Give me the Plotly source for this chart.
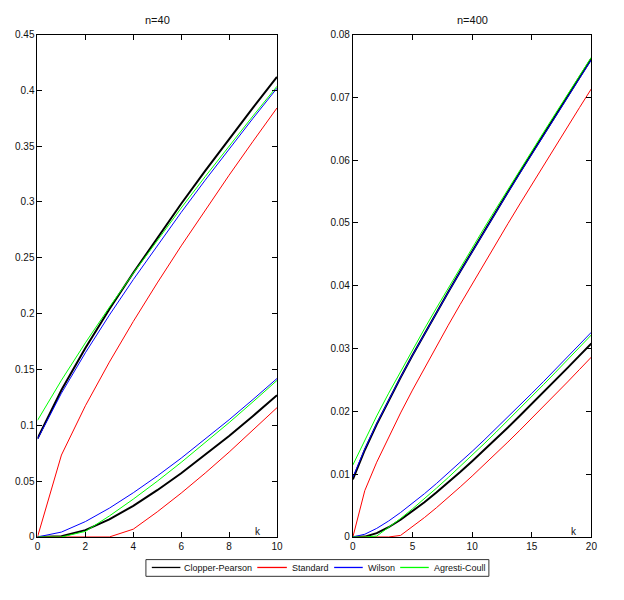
import plotly.graph_objects as go

# ---------------- data ----------------
k40 = list(range(11))
k400 = list(range(21))

# n = 40
cp40_lo = [0.0, 0.0006, 0.0061, 0.0157, 0.0279, 0.0419, 0.0571, 0.0734, 0.0905, 0.1084, 0.1269]
cp40_hi = [0.0881, 0.1316, 0.1692, 0.2039, 0.2366, 0.2680, 0.2984, 0.3278, 0.3565, 0.3846, 0.4120]
st40_lo = [0.0, 0.0, 0.0, 0.0, 0.0070, 0.0225, 0.0393, 0.0572, 0.0760, 0.0956, 0.1158]
st40_hi = [0.0, 0.0734, 0.1175, 0.1566, 0.1930, 0.2275, 0.2607, 0.2928, 0.3240, 0.3544, 0.3842]
wi40_lo = [0.0, 0.0044, 0.0138, 0.0258, 0.0396, 0.0546, 0.0706, 0.0875, 0.1050, 0.1232, 0.1419]
wi40_hi = [0.0876, 0.1288, 0.1650, 0.1987, 0.2305, 0.2611, 0.2907, 0.3195, 0.3476, 0.3750, 0.4019]
ac40_lo = [0.0, 0.0, 0.0050, 0.0188, 0.0339, 0.0499, 0.0668, 0.0843, 0.1024, 0.1211, 0.1402]
ac40_hi = [0.1044, 0.1404, 0.1739, 0.2057, 0.2362, 0.2658, 0.2946, 0.3227, 0.3502, 0.3771, 0.4036]

# n = 400
cp400_lo = [0.0, 0.00006, 0.00061, 0.00155, 0.00274, 0.00408, 0.00553, 0.00707, 0.00868, 0.01035,
            0.01207, 0.01382, 0.01562, 0.01744, 0.01929, 0.02116, 0.02306, 0.02498, 0.02692, 0.02887, 0.03083]
cp400_hi = [0.00918, 0.01385, 0.01794, 0.02176, 0.02540, 0.02893, 0.03236, 0.03572, 0.03902, 0.04228,
            0.04549, 0.04866, 0.05181, 0.05492, 0.05802, 0.06109, 0.06413, 0.06716, 0.07017, 0.07317, 0.07616]
st400_lo = [0.0, 0.0, 0.0, 0.0, 0.00025, 0.00161, 0.00309, 0.00465, 0.00628, 0.00797,
            0.00970, 0.01147, 0.01328, 0.01512, 0.01699, 0.01888, 0.02080, 0.02273, 0.02468, 0.02666, 0.02864]
st400_hi = [0.0, 0.00739, 0.01191, 0.01596, 0.01975, 0.02339, 0.02691, 0.03035, 0.03372, 0.03703,
            0.04030, 0.04353, 0.04672, 0.04988, 0.05301, 0.05612, 0.05920, 0.06227, 0.06532, 0.06835, 0.07136]
wi400_lo = [0.0, 0.00044, 0.00137, 0.00255, 0.00390, 0.00535, 0.00689, 0.00850, 0.01017, 0.01188,
            0.01363, 0.01542, 0.01724, 0.01909, 0.02096, 0.02286, 0.02477, 0.02670, 0.02865, 0.03062, 0.03260]
wi400_hi = [0.00951, 0.01402, 0.01805, 0.02182, 0.02543, 0.02892, 0.03234, 0.03568, 0.03896, 0.04220,
            0.04540, 0.04857, 0.05170, 0.05481, 0.05789, 0.06095, 0.06398, 0.06700, 0.07001, 0.07299, 0.07596]
ac400_lo = [0.0, 0.0, 0.00015, 0.00148, 0.00294, 0.00448, 0.00609, 0.00776, 0.00947, 0.01122,
            0.01301, 0.01483, 0.01668, 0.01855, 0.02044, 0.02236, 0.02429, 0.02624, 0.02821, 0.03019, 0.03218]
ac400_hi = [0.01147, 0.01550, 0.01927, 0.02289, 0.02638, 0.02980, 0.03314, 0.03643, 0.03966, 0.04286,
            0.04603, 0.04916, 0.05226, 0.05535, 0.05840, 0.06144, 0.06446, 0.06746, 0.07045, 0.07342, 0.07638]

methods = ["Clopper-Pearson", "Standard", "Wilson", "Agresti-Coull"]
colors = ["#000000", "#ff0000", "#0000ff", "#00ff00"]
widths = [2, 1, 1, 1]

series40 = [(cp40_lo, cp40_hi), (st40_lo, st40_hi), (wi40_lo, wi40_hi), (ac40_lo, ac40_hi)]
series400 = [(cp400_lo, cp400_hi), (st400_lo, st400_hi), (wi400_lo, wi400_hi), (ac400_lo, ac400_hi)]

FONT = "Liberation Sans, Arial, sans-serif"
W, H = 624, 600

fig = go.Figure()

for i, (name, col, w) in enumerate(zip(methods, colors, widths)):
    for j, (xs, ser, xa, ya) in enumerate([(k40, series40, "x", "y"), (k400, series400, "x2", "y2")]):
        lo, hi = ser[i]
        for b, vals in enumerate([hi, lo]):
            fig.add_trace(go.Scatter(
                x=xs, y=vals, mode="lines", xaxis=xa, yaxis=ya,
                line=dict(color=col, width=w),
                name=name, showlegend=False, hoverinfo="skip",
            ))

axis_common = dict(
    showline=True, linecolor="black", linewidth=1, mirror="ticks",
    ticks="inside", ticklen=5, tickcolor="black", tickwidth=1,
    showgrid=False, zeroline=False,
    tickfont=dict(family=FONT, size=10, color="#111111"),
)

# ---- manual legend (MATLAB style box) ----
legend_box = (145, 564, 493, 581)          # page pixels: x0, y0, x1, y1
legend_lines = [(151, 180), (258, 288), (336, 365), (403, 432)]
legend_text_x = [182, 291, 368, 435]
legend_y = 572

def px(x):
    return x / W

def py(y):
    return 1 - y / H

shapes = [dict(type="rect", xref="paper", yref="paper",
               x0=px(legend_box[0]), x1=px(legend_box[2]),
               y0=py(legend_box[3]), y1=py(legend_box[1]),
               line=dict(color="#333333", width=1), fillcolor="white", layer="above")]
annotations = []
for (x0, x1), tx, name, col in zip(legend_lines, legend_text_x, methods, colors):
    shapes.append(dict(type="line", xref="paper", yref="paper",
                       x0=px(x0), x1=px(x1), y0=py(legend_y), y1=py(legend_y),
                       line=dict(color=col, width=1.3), layer="above"))
    annotations.append(dict(text=name, x=px(tx), y=py(legend_y + 1), xref="paper", yref="paper",
                            showarrow=False, xanchor="left", yanchor="middle",
                            font=dict(family=FONT, size=9, color="#111111")))

annotations += [
    dict(text="n=40", x=px(157), y=py(15), xref="paper", yref="paper",
         showarrow=False, font=dict(family=FONT, size=11, color="#111111"),
         xanchor="center", yanchor="middle"),
    dict(text="n=400", x=px(476), y=py(15), xref="paper", yref="paper",
         showarrow=False, font=dict(family=FONT, size=11, color="#111111"),
         xanchor="center", yanchor="middle"),
    dict(text="k", x=px(259), y=py(535), xref="paper", yref="paper",
         showarrow=False, font=dict(family=FONT, size=10, color="#111111"),
         xanchor="center", yanchor="middle"),
    dict(text="k", x=px(579), y=py(535), xref="paper", yref="paper",
         showarrow=False, font=dict(family=FONT, size=10, color="#111111"),
         xanchor="center", yanchor="middle"),
]

fig.update_layout(
    width=W, height=H,
    margin=dict(l=0, r=0, t=0, b=0),
    paper_bgcolor="white", plot_bgcolor="white",
    font=dict(family=FONT, size=10, color="#111111"),
    xaxis=dict(domain=[35/W, 278/W], range=[0, 10], dtick=2, anchor="y", **axis_common),
    yaxis=dict(domain=[59/H, 570/H], range=[0, 0.45], dtick=0.05, anchor="x", **axis_common),
    xaxis2=dict(domain=[355/W, 597/W], range=[0, 20], dtick=5, anchor="y2", **axis_common),
    yaxis2=dict(domain=[59/H, 570/H], range=[0, 0.08], dtick=0.01, anchor="x2", **axis_common),
    showlegend=False,
    shapes=shapes,
    annotations=annotations,
)

fig.write_html("out.html")
